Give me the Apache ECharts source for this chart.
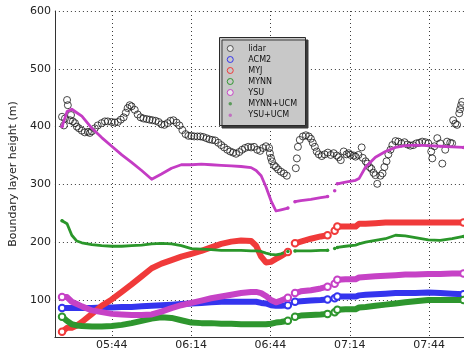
<!DOCTYPE html>
<html><head><meta charset="utf-8">
<script src="https://cdn.jsdelivr.net/npm/echarts@6/dist/echarts.min.js"></script>
<style>html,body{margin:0;padding:0;background:#fff}#c{width:464px;height:352px}</style>
</head><body><div id="c"></div>
<script>
// time in minutes since midnight
const xTickLabels = ['05:44','06:14','06:44','07:14','07:44'];
const yTickValues = [100,200,300,400,500,600];

const lidarTime = [325.2,325.9,326.3,327.1,327.4,328.2,328.6,329.3,330.1,330.8,331.6,332.7,333.8,335.0,335.7,336.5,337.6,338.7,340.2,341.4,342.5,344.0,345.1,346.3,347.4,348.5,349.3,350.0,350.8,351.5,352.7,353.8,354.9,356.0,357.2,358.3,359.4,360.6,361.7,362.8,363.9,365.1,366.2,367.3,368.5,369.6,370.7,371.9,373.0,374.1,375.2,376.4,377.5,378.6,379.8,380.9,382.0,383.1,384.3,385.4,386.5,387.7,388.8,389.9,391.0,392.2,393.3,394.4,395.6,396.7,397.8,399.0,400.1,401.2,402.3,403.5,403.8,404.2,404.6,405.4,406.1,406.9,408.0,409.1,410.2,
413.6,414.0,414.4,415.1,416.3,417.4,418.5,419.3,420.0,420.8,421.5,422.3,423.4,424.5,425.7,426.8,427.9,429.1,429.8,430.6,431.7,432.8,433.6,434.3,435.5,436.2,437.3,438.5,438.9,440.0,440.7,441.5,442.2,443.0,443.7,444.4,445.6,446.4,447.1,447.9,448.6,449.4,450.1,451.3,452.4,453.5,454.7,455.8,456.9,458.0,459.2,460.3,461.4,462.6,463.7,464.8,465.2,466.0,467.1,468.2,469.0,470.1,470.8,472.0,472.7,473.1,473.9,474.6,475.4,475.7,476.1,476.5];
const lidarHeight = [417,402,414,446,437,411,420,409,406,400,397,393,390,391,389,392,397,402,406,409,409,408,407,408,412,416,424,432,437,435,429,421,416,414,413,412,411,410,408,404,403,406,410,411,407,402,394,387,384,384,383,383,383,382,380,378,377,376,372,368,364,360,357,355,353,356,360,363,365,364,365,360,358,363,366,363,354,346,340,333,330,326,322,319,315,
328,345,365,377,383,385,383,379,372,365,357,352,349,352,355,351,354,350,347,342,357,352,354,351,350,348,351,364,346,340,336,330,327,320,316,301,315,319,330,340,352,360,368,375,374,371,373,369,367,368,371,372,374,373,371,357,345,366,380,371,336,360,374,372,371,411,405,403,423,430,437,443];

const modelTime = [325.2,327.1,328.9,330.8,332.7,336.5,340.2,344.0,347.8,351.5,355.3,359.1,362.8,366.6,370.3,374.1,377.9,381.6,385.4,389.2,392.9,396.7,398.6,400.5,402.3,404.2,406.1,408.0,410.6,412.0,413.3,415.5,419.3,423.0,425.6,427.0,428.3,428.8,429.3,432.4,436.2,437.5,440.0,443.7,447.5,451.3,455.0,458.8,463.7,468.2,472.7,477.0];
const acm2 = [86,86,86,86,86,86,87,87,88,88,89,90,91,92,93,94,95,96,97,97,97,97,97,95,94,91,90,90,91,null,97,98,99,100,101,null,103,null,106,106,106,108,109,110,111,112,112,112,113,112,111,110];
const myj = [45,52,52,56,62,76,90,101,114,127,141,155,163,169,175,180,185,191,197,201,203,202,194,175,165,166,171,176,183,null,198,201,206,210,212,null,220,null,227,227,227,232,232,233,234,234,234,234,234,234,234,234];
const mynn = [71,64,58,56,55,54,54,55,57,60,64,68,70,69,65,61,60,60,59,59,58,58,58,58,58,59,61,62,64,null,71,73,74,75,76,null,79,null,83,84,84,87,88,90,92,94,96,98,100,100,100,100];
const ysu = [105,105,97,93,89,82,79,76,75,74,74,75,80,86,91,95,99,103,106,109,112,114,114,112,107,100,96,99,104,null,112,115,117,120,123,null,128,null,135,136,136,139,140,141,142,143,144,144,145,145,146,146];
const mynnUcm = [237,232,212,202,199,196,194,193,193,194,195,197,198,197,194,189,188,187,186,186,186,185,185,184,181,179,178,180,184,null,185,185,185,186,186,null,189,null,191,193,195,197,200,203,206,212,211,208,204,203,206,210];
const ysuUcm = [400,426,430,424,418,397,381,366,351,338,324,309,318,328,334,334,335,334,333,332,331,329,324,315,296,272,254,256,259,null,270,272,274,277,279,null,289,null,301,304,307,310,330,347,357,364,367,368,367,366,365,364];

const C = {lidar:'#1c1c1c', acm2:'#3434ee', myj:'#f03a3a', mynn:'#2e962e', ysu:'#c642c6', mynnUcm:'#2a962a', ysuUcm:'#c43cc4'};
const FONT = 'DejaVu Sans';

function toMin(s){const p=s.split(':');return +p[0]*60 + +p[1];}
function fmt(v){const h=Math.floor(v/60), m=Math.round(v-h*60);return (h<10?'0':'')+h+':'+(m<10?'0':'')+m;}
const xTickValues = xTickLabels.map(toMin);

function ends(vals){return vals.map((v,i)=>v!=null && (i===0||i===vals.length-1||vals[i-1]==null||vals[i+1]==null));}
function pairs(t, vals){return t.map((x,i)=>[x, vals[i]==null?'-':vals[i]]);}

function thick(name, vals, color){
  const e = ends(vals);
  return {name, type:'line', data:pairs(modelTime, vals), connectNulls:false,
    lineStyle:{width:6, color, cap:'round', join:'round'},
    itemStyle:{color, borderWidth:1.2},
    symbol:(v,p)=>e[p.dataIndex]?'emptyCircle':'none', symbolSize:6.5,
    showSymbol:true, showAllSymbol:true, silent:true};
}
function thin(name, vals, color){
  const e = ends(vals);
  return {name, type:'line', data:pairs(modelTime, vals), connectNulls:false,
    lineStyle:{width:2.8, color, cap:'round', join:'round'},
    itemStyle:{color},
    symbol:(v,p)=>e[p.dataIndex]?'circle':'none', symbolSize:3.5,
    showSymbol:true, showAllSymbol:true, silent:true};
}

const chart = echarts.init(document.getElementById('c'), null, {renderer:'canvas'});
const gridLine = {show:true, lineStyle:{color:'#3a3a3a', type:[1,3], width:1}};
chart.setOption({
  animation:false,
  textStyle:{fontFamily:FONT},
  grid:{left:53, top:11, right:0, bottom:15, containLabel:false},
  xAxis:{type:'value', min:322.5, max:477.2,
    axisLine:{show:true, onZero:false, lineStyle:{color:'#333', width:1}},
    axisTick:{show:false, customValues:xTickValues},
    axisLabel:{customValues:xTickValues, formatter:fmt, fontSize:11, color:'#222', margin:3, fontFamily:FONT},
    splitLine:gridLine},
  yAxis:{type:'value', min:36, max:600,
    name:'Boundary layer height (m)', nameLocation:'middle', nameGap:31,
    nameTextStyle:{fontSize:11, color:'#222', fontFamily:FONT},
    axisLine:{show:true, onZero:false, lineStyle:{color:'#333', width:1}},
    axisTick:{show:false, customValues:yTickValues},
    axisLabel:{customValues:yTickValues, fontSize:11, color:'#222', margin:4, fontFamily:FONT},
    splitLine:gridLine},
  graphic:[{type:'rect', z:3, shape:{x:219.5, y:37.5, width:86, height:88},
    style:{fill:'#c8c8c8', stroke:'#2a2a2a', lineWidth:1, shadowColor:'#3a3a3a', shadowOffsetX:2.5, shadowOffsetY:2.5, shadowBlur:0}}],
  legend:{orient:'vertical', left:221, top:39.5, itemWidth:26, itemHeight:6, itemGap:3, selectedMode:false, z:5,
    textStyle:{fontSize:8, color:'#111', fontFamily:FONT},
    data:[
      {name:'lidar', icon:'circle', itemStyle:{color:'#f4f4f4', borderColor:'#333', borderWidth:1}},
      {name:'ACM2', icon:'circle', itemStyle:{color:'#c8c8c8', borderColor:'#3434ee', borderWidth:1}},
      {name:'MYJ', icon:'circle', itemStyle:{color:'#c8c8c8', borderColor:'#f03a3a', borderWidth:1}},
      {name:'MYNN', icon:'circle', itemStyle:{color:'#c8c8c8', borderColor:'#2e962e', borderWidth:1}},
      {name:'YSU', icon:'circle', itemStyle:{color:'#e8e8e8', borderColor:'#c642c6', borderWidth:1}},
      {name:'MYNN+UCM', icon:'circle', itemStyle:{color:'#5a9a5a', borderColor:'#c8c8c8', borderWidth:2.5}},
      {name:'YSU+UCM', icon:'circle', itemStyle:{color:'#c070c0', borderColor:'#c8c8c8', borderWidth:2.5}}
    ]},
  series:[
    {name:'lidar', type:'scatter', data:pairs(lidarTime, lidarHeight), symbol:'circle', symbolSize:7,
      itemStyle:{color:'rgba(255,255,255,0)', borderColor:C.lidar, borderWidth:1}, silent:true},
    thick('ACM2', acm2, C.acm2),
    thick('MYJ', myj, C.myj),
    thick('MYNN', mynn, C.mynn),
    thick('YSU', ysu, C.ysu),
    thin('MYNN+UCM', mynnUcm, C.mynnUcm),
    thin('YSU+UCM', ysuUcm, C.ysuUcm)
  ]
});
</script></body></html>
